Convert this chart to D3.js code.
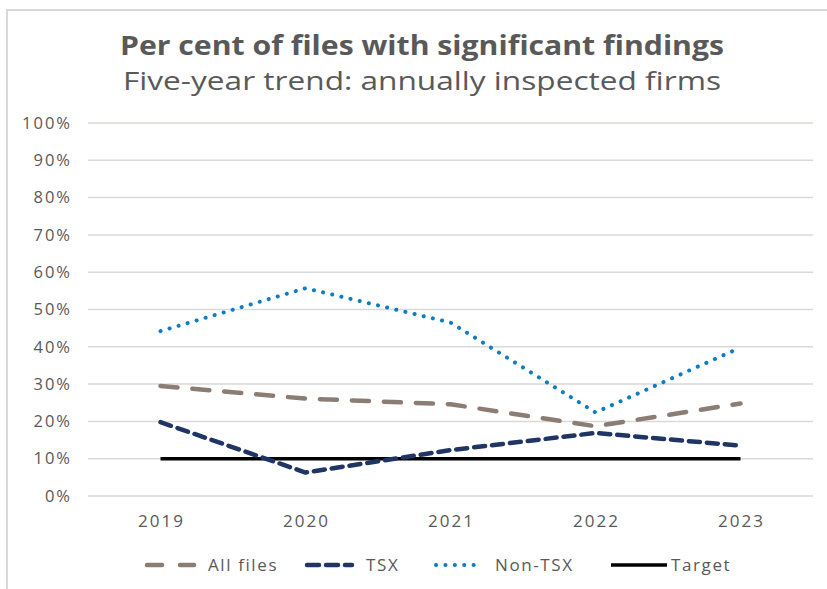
<!DOCTYPE html>
<html>
<head>
<meta charset="utf-8">
<script src="https://cdn.jsdelivr.net/npm/d3@7"></script>
<style>
  body { margin: 0; background: #fff; }
  svg { display: block; font-family: "Open Sans", Arial, sans-serif; }
</style>
</head>
<body>
<svg id="chart" width="827" height="589"></svg>
<script>
// data
var years = ['2019', '2020', '2021', '2022', '2023'];
var allFiles = [29.5, 26.1, 24.6, 18.7, 24.8];
var tsx = [19.8, 6.3, 12.3, 16.9, 13.5];
var nonTsx = [44.2, 55.7, 46.5, 22.4, 39.8];
var target = [10, 10, 10, 10, 10];
var yTicks = [0, 10, 20, 30, 40, 50, 60, 70, 80, 90, 100];

var series = [
	{ 'n': 'Target', 'v': target, 'color': '#000000', 'w': 3.5, 'dash': null, 'cap': 'butt' },
	{ 'n': 'All files', 'v': allFiles, 'color': '#8b7d73', 'w': 4.5, 'dash': '17,15', 'cap': 'round' },
	{ 'n': 'TSX', 'v': tsx, 'color': '#1f3564', 'w': 4.5, 'dash': '11,7', 'cap': 'round' },
	{ 'n': 'Non-TSX', 'v': nonTsx, 'color': '#0b7dc2', 'w': 4, 'dash': '0.1,9.3', 'cap': 'round' }
];
var legendOrder = ['All files', 'TSX', 'Non-TSX', 'Target'];

var textColor = '#595959';
var svg = d3.select('#chart');

// outer frame (only top and left visible in the crop)
svg.append('rect')
	.attr('x', 7).attr('y', 10)
	.attr('width', 900).attr('height', 700)
	.attr('fill', 'none')
	.attr('stroke', '#d9d9d9')
	.attr('stroke-width', 2);

svg.append('text')
	.attr('x', 422).attr('y', 55)
	.attr('text-anchor', 'middle')
	.attr('textLength', 604)
	.attr('lengthAdjust', 'spacingAndGlyphs')
	.style('font-size', '26px')
	.style('font-weight', 'bold')
	.style('fill', textColor)
	.text('Per cent of files with significant findings');

svg.append('text')
	.attr('x', 422).attr('y', 90)
	.attr('text-anchor', 'middle')
	.attr('textLength', 598)
	.attr('lengthAdjust', 'spacingAndGlyphs')
	.style('font-size', '26px')
	.style('fill', textColor)
	.text('Five-year trend: annually inspected firms');

var x = d3.scaleBand().domain(years).range([88, 813]);
var y = d3.scaleLinear().domain([0, 100]).range([496, 123]);
var cx = function(d) { return x(d) + x.bandwidth() / 2; };

// gridlines
svg.append('g')
	.selectAll('line')
	.data(yTicks)
	.enter().append('line')
	.attr('x1', 88).attr('x2', 813)
	.attr('y1', function(d) { return y(d); })
	.attr('y2', function(d) { return y(d); })
	.attr('stroke', function(d) { return d == 100 ? '#ddd6cc' : '#d9d9d9'; })
	.attr('stroke-width', 1.5);

// y axis labels
var yAxis = svg.append('g')
	.attr('transform', 'translate(88,0)')
	.call(d3.axisLeft(y).tickValues(yTicks).tickSize(0).tickPadding(16)
		.tickFormat(function(d) { return d + '%'; }));
yAxis.select('.domain').remove();
yAxis.selectAll('text')
	.style('font-size', '16.5px')
	.style('letter-spacing', '2px')
	.style('font-family', '"Open Sans", Arial, sans-serif')
	.style('fill', textColor);

// x axis labels
var xAxis = svg.append('g')
	.attr('transform', 'translate(1,496)')
	.call(d3.axisBottom(x).tickSize(0).tickPadding(19));
xAxis.select('.domain').remove();
xAxis.selectAll('text')
	.style('font-size', '17px')
	.style('letter-spacing', '2px')
	.style('font-family', '"Open Sans", Arial, sans-serif')
	.style('fill', textColor);

var line = d3.line()
	.x(function(d, i) { return cx(years[i]); })
	.y(function(d) { return y(d); });

svg.append('g')
	.selectAll('path')
	.data(series)
	.enter().append('path')
	.attr('d', function(d) { return line(d.v); })
	.attr('fill', 'none')
	.attr('stroke', function(d) { return d.color; })
	.attr('stroke-width', function(d) { return d.w; })
	.attr('stroke-dasharray', function(d) { return d.dash; })
	.attr('stroke-linecap', function(d) { return d.cap; })
	.attr('stroke-linejoin', 'round');

// legend
var legendX = [145, 305, 434, 611];
var legendSw = [51, 49, 49, 56];
var legend = svg.append('g');
legendOrder.forEach(function(name, i) {
	var s = series.filter(function(d) { return d.n == name; })[0];
	var x0 = legendX[i];
	var dash = s.dash;
	if (name == 'All files') dash = '15,18';
	if (name == 'TSX') dash = '12,7';
	legend.append('line')
		.attr('x1', x0 + (s.cap == 'round' ? 2 : 0)).attr('x2', x0 + legendSw[i] - (s.cap == 'round' ? 2 : 0))
		.attr('y1', 565).attr('y2', 565)
		.attr('stroke', s.color)
		.attr('stroke-width', s.w)
		.attr('stroke-dasharray', dash)
		.attr('stroke-linecap', s.cap);
	legend.append('text')
		.attr('x', x0 + legendSw[i] + (name == 'Target' ? 4 : 12))
		.attr('y', 565)
		.attr('dy', '0.35em')
		.style('font-size', '17px')
		.style('letter-spacing', '1.6px')
		.style('fill', textColor)
		.text(name);
});
</script>
</body>
</html>
